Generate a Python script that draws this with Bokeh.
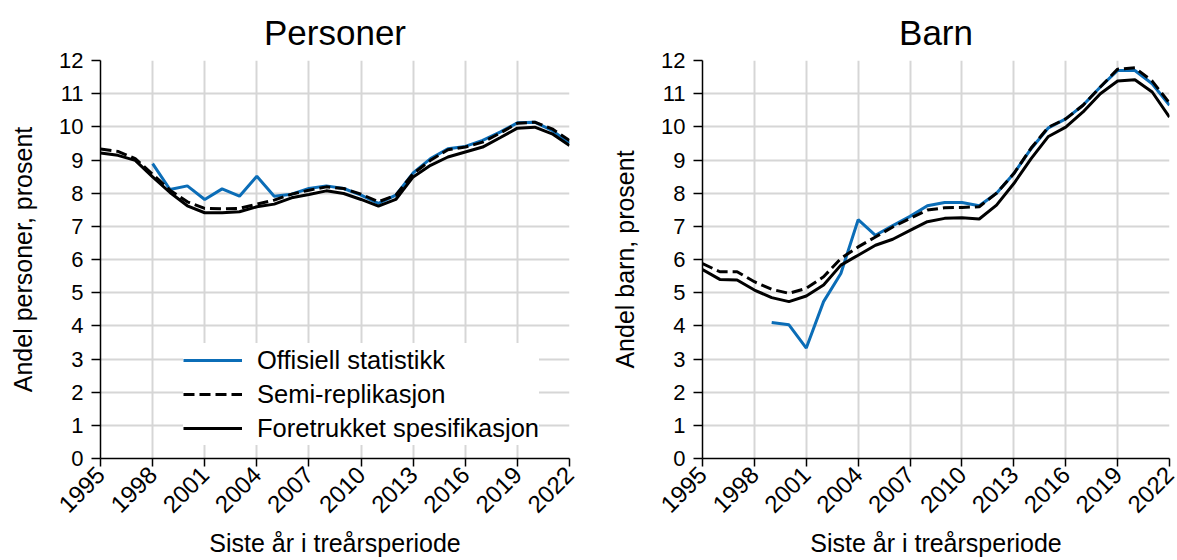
import math
from bokeh.plotting import figure
from bokeh.layouts import row
from bokeh.models import FixedTicker, Range1d, Legend, LegendItem, ColumnDataSource
from bokeh.embed import file_html
from bokeh.resources import INLINE

NaN = float("nan")

years = [1995, 1996, 1997, 1998, 1999, 2000, 2001, 2002, 2003, 2004, 2005, 2006, 2007, 2008,
         2009, 2010, 2011, 2012, 2013, 2014, 2015, 2016, 2017, 2018, 2019, 2020, 2021, 2022]
x_ticks = [1995, 1998, 2001, 2004, 2007, 2010, 2013, 2016, 2019, 2022]
y_ticks = [0, 1, 2, 3, 4, 5, 6, 7, 8, 9, 10, 11, 12]

titles = ["Personer", "Barn"]
y_labels = ["Andel personer, prosent", "Andel barn, prosent"]
x_label = "Siste år i treårsperiode"
series_names = ["Offisiell statistikk", "Semi-replikasjon", "Foretrukket spesifikasjon"]

personer_offisiell = [NaN, NaN, NaN, 8.89, 8.11, 8.22, 7.81, 8.13, 7.91, 8.51, 7.91, 7.97, 8.14, 8.22,
                      8.14, 7.94, 7.69, 7.94, 8.61, 9.04, 9.34, 9.41, 9.59, 9.84, 10.12, 10.14, 9.89, 9.51]
personer_semi = [9.33, 9.26, 9.04, 8.57, 8.09, 7.74, 7.54, 7.53, 7.54, 7.67, 7.79, 7.97, 8.09, 8.19,
                 8.14, 7.97, 7.74, 7.94, 8.59, 8.99, 9.31, 9.39, 9.54, 9.81, 10.11, 10.14, 9.94, 9.59]
personer_foretrukket = [9.21, 9.14, 8.99, 8.49, 8.02, 7.62, 7.41, 7.41, 7.44, 7.59, 7.67, 7.86, 7.96, 8.07,
                        7.99, 7.81, 7.61, 7.81, 8.49, 8.84, 9.09, 9.24, 9.39, 9.67, 9.96, 9.99, 9.79, 9.44]

barn_offisiell = [NaN, NaN, NaN, NaN, 4.10, 4.03, 3.33, 4.73, 5.58, 7.20, 6.73, 7.02, 7.30, 7.62,
                  7.72, 7.72, 7.62, 8.00, 8.59, 9.34, 9.97, 10.24, 10.65, 11.20, 11.70, 11.70, 11.30, 10.65]
barn_semi = [5.88, 5.63, 5.63, 5.33, 5.10, 4.98, 5.13, 5.48, 6.03, 6.38, 6.68, 6.98, 7.24, 7.49,
             7.56, 7.57, 7.59, 8.00, 8.59, 9.36, 9.99, 10.24, 10.65, 11.20, 11.74, 11.78, 11.38, 10.72]
barn_foretrukket = [5.70, 5.40, 5.38, 5.08, 4.85, 4.73, 4.90, 5.23, 5.83, 6.13, 6.43, 6.61, 6.88, 7.14,
                    7.24, 7.26, 7.22, 7.64, 8.29, 9.04, 9.71, 9.99, 10.45, 11.00, 11.38, 11.42, 11.05, 10.29]

FONT = "Liberation Sans"
BLUE = "#0b6db7"
GRID = "#d6d6d6"


def make_panel(title, ylabel, off, semi, fore, width, lb, rb, with_legend):
    src = ColumnDataSource(dict(x=years, off=off, semi=semi, fore=fore))
    p = figure(width=width, height=560, x_range=Range1d(1995, 2022), y_range=Range1d(0, 12),
               output_backend="svg", toolbar_location=None, title=title,
               min_border_left=lb, min_border_right=rb, min_border_top=60, min_border_bottom=102)
    p.outline_line_color = None
    p.background_fill_color = "white"
    p.border_fill_color = "white"
    p.title.align = "center"
    p.title.text_font = FONT
    p.title.text_font_size = "35px"
    p.title.text_font_style = "normal"
    p.title.text_color = "black"
    p.title.standoff = 18

    p.xaxis.ticker = FixedTicker(ticks=x_ticks)
    p.yaxis.ticker = FixedTicker(ticks=y_ticks)
    p.xaxis.minor_tick_line_color = None
    p.yaxis.minor_tick_line_color = None
    for ax in (p.xaxis, p.yaxis):
        ax.axis_line_color = "black"
        ax.axis_line_width = 1.5
        ax.major_tick_line_color = "black"
        ax.major_tick_line_width = 1.5
        ax.major_tick_in = 0
        ax.major_label_text_font = FONT
        ax.major_label_text_color = "black"
        ax.axis_label_text_font = FONT
        ax.axis_label_text_font_size = "25px"
        ax.axis_label_text_font_style = "normal"
        ax.axis_label_text_color = "black"
    p.yaxis.major_label_text_font_size = "22px"
    p.xaxis.major_label_text_font_size = "24px"
    p.xaxis.major_tick_out = 8
    p.yaxis.major_tick_out = 9
    p.xaxis.major_label_orientation = math.pi / 4
    p.xaxis.major_label_standoff = 4
    p.yaxis.major_label_standoff = 8
    p.xaxis.axis_label = x_label
    p.yaxis.axis_label = ylabel
    p.xaxis.axis_label_standoff = 6
    p.yaxis.axis_label_standoff = 19

    p.xgrid.grid_line_color = GRID
    p.ygrid.grid_line_color = GRID
    p.xgrid.grid_line_width = 2
    p.ygrid.grid_line_width = 2

    r_off = p.line("x", "off", source=src, line_color=BLUE, line_width=3)
    r_semi = p.line("x", "semi", source=src, line_color="black", line_width=3, line_dash="11 5")
    r_fore = p.line("x", "fore", source=src, line_color="black", line_width=3)

    if with_legend:
        legend = Legend(items=[LegendItem(label=series_names[0], renderers=[r_off]),
                               LegendItem(label=series_names[1], renderers=[r_semi]),
                               LegendItem(label=series_names[2], renderers=[r_fore])],
                        location=(83, 13))
        legend.background_fill_color = "white"
        legend.background_fill_alpha = 1
        legend.border_line_color = None
        legend.label_text_font = FONT
        legend.label_text_font_size = "25.5px"
        legend.label_text_color = "black"
        legend.glyph_width = 59
        legend.glyph_height = 34
        legend.label_height = 34
        legend.label_standoff = 15
        legend.spacing = 0
        legend.padding = 5
        legend.margin = 0
        p.add_layout(legend)
    return p


p1 = make_panel(titles[0], y_labels[0], personer_offisiell, personer_semi, personer_foretrukket,
                600, 100, 31, True)
p2 = make_panel(titles[1], y_labels[1], barn_offisiell, barn_semi, barn_foretrukket,
                577, 102, 8, False)

layout = row(p1, p2)
open("out.html", "w").write(file_html(layout, INLINE))
